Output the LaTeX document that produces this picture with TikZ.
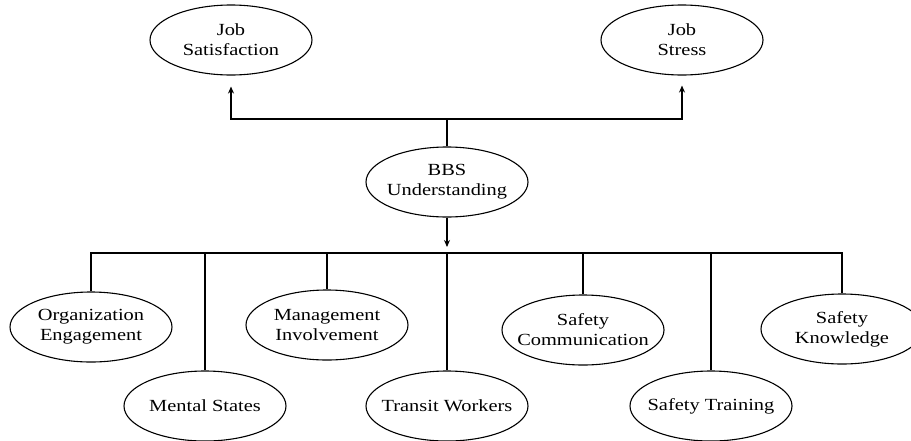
\documentclass[tikz,border=0pt]{standalone}
\usepackage{fontspec}
\setmainfont{Liberation Serif}[FakeStretch=1.2]
\usetikzlibrary{positioning, arrows.meta, shapes.geometric}

\begin{document}
\begin{tikzpicture}[
    x=1pt, y=-1pt,
    oval/.style={draw, ellipse, line width=1.1pt, minimum width=162pt, minimum height=70pt,
                 inner xsep=-14pt, inner ysep=0pt, align=center,
                 font=\fontsize{17}{20}\selectfont},
    conn/.style={line width=1.8pt},
    arr/.style={conn, -{Stealth[length=7pt, width=6pt]}},
]
    \useasboundingbox (0,0) rectangle (911,440);

    % outcomes
    \node[oval] (sat) at (231,40) {Job\\Satisfaction};
    \node[oval] (stress) at (682,40) {Job\\Stress};
    \node[oval] (bbs) at (447,182) {BBS\\Understanding};

    % factors
    \node[oval] (org) at (91,327) {Organization\\Engagement};
    \node[oval] (mental) at (205,406) {Mental States};
    \node[oval] (mgmt) at (327,325) {Management\\Involvement};
    \node[oval] (transit) at (447,406) {Transit Workers};
    \node[oval] (comm) at (583,330) {Safety\\Communication};
    \node[oval] (train) at (711,406) {Safety Training};
    \node[oval] (know) at (842,329) {Safety\\Knowledge};

    \coordinate (top) at (447,119);
    \coordinate (bus) at (447,253);

    \draw[conn] (bbs.north) -- (top);
    \draw[arr, shorten >=11pt] (top) -| (sat.south);
    \draw[arr, shorten >=10pt] (top) -| (stress.south);

    \draw[arr, shorten >=6pt] (bbs.south) -- (bus);
    \foreach \f in {org, mental, mgmt, transit, comm, train, know}
        \draw[conn] (bus) -| (\f.north);
\end{tikzpicture}
\end{document}
